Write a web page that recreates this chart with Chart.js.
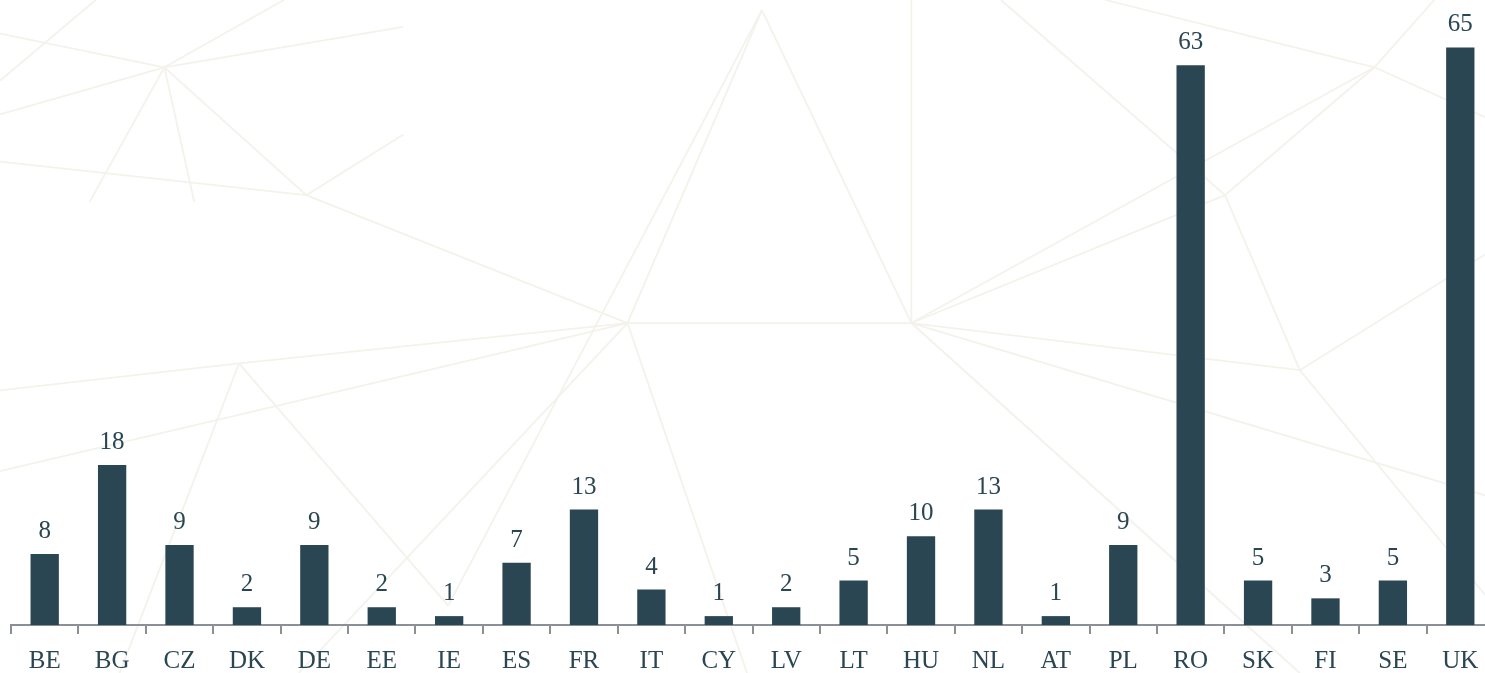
<!DOCTYPE html>
<html>
<head>
<meta charset="utf-8">
<script src="https://cdn.jsdelivr.net/npm/chart.js@4.4.0/dist/chart.umd.min.js"></script>
<style>
  html, body { margin: 0; padding: 0; background: #fff; overflow: hidden; }
  #wrap { width: 1494px; height: 673px; position: relative; }
</style>
</head>
<body>
<div id="wrap"><canvas id="chart"></canvas></div>
<script>
// chart data
const countries = ['BE', 'BG', 'CZ', 'DK', 'DE', 'EE', 'IE', 'ES', 'FR', 'IT', 'CY',
  'LV', 'LT', 'HU', 'NL', 'AT', 'PL', 'RO', 'SK', 'FI', 'SE', 'UK'];
const counts = [8, 18, 9, 2, 9, 2, 1, 7, 13, 4, 1, 2, 5, 10, 13, 1, 9, 63, 5, 3, 5, 65];

const barColor = '#2b4653';
const textColor = '#2b4653';
const serif = "'Liberation Serif', 'DejaVu Serif', serif";

// faint decorative background lines (fractions of the canvas)
const bgLines = [
  [0, .05, .11, .10], [.11, .10, .27, .04], [.11, .10, .19, 0], [.11, .10, 0, .17],
  [.11, .10, .06, .30], [.11, .10, .13, .30], [.11, .10, .205, .29], [0, .12, .064, 0],
  [.205, .29, .27, .20], [0, .24, .205, .29], [.205, .29, .42, .48], [0, .58, .16, .54],
  [.16, .54, .42, .48], [.42, .48, .51, .015], [.42, .48, .61, .48], [.61, .48, .51, .015],
  [.61, .48, .92, .10], [.92, .10, 1, .18], [.92, .10, .74, 0], [.92, .10, .96, 0],
  [.61, .48, .61, 0], [.61, .48, 1, .74], [.42, .48, 0, .70], [.61, .48, .87, 1],
  [.42, .48, .2, 1], [.87, .55, 1, .37], [.82, .29, .92, .10], [.82, .29, .61, .48],
  [.82, .29, .87, .55], [.87, .55, .61, .48], [.87, .55, 1, .90], [.42, .48, .5, 1],
  [.16, .54, .08, 1], [.16, .54, .3, .9], [.82, .29, .67, 0], [.51, .015, .3, .9]
];

const bgPlugin = {
  id: 'bgLines',
  beforeDraw(chart) {
    const { ctx, width, height } = chart;
    ctx.save();
    ctx.fillStyle = '#ffffff';
    ctx.fillRect(0, 0, width, height);
    ctx.strokeStyle = '#f3f2eb';
    ctx.lineWidth = 1.8;
    bgLines.forEach(l => {
      ctx.beginPath();
      ctx.moveTo(l[0] * width, l[1] * height);
      ctx.lineTo(l[2] * width, l[3] * height);
      ctx.stroke();
    });
    ctx.restore();
  }
};

// value labels above each bar
const valueLabels = {
  id: 'valueLabels',
  afterDatasetsDraw(chart) {
    const { ctx } = chart;
    const meta = chart.getDatasetMeta(0);
    ctx.save();
    ctx.font = '25px ' + serif;
    ctx.fillStyle = textColor;
    ctx.textAlign = 'center';
    ctx.textBaseline = 'bottom';
    meta.data.forEach((bar, i) => {
      ctx.fillText(counts[i], bar.x, bar.y - 10);
    });
    ctx.restore();
  }
};

new Chart(document.getElementById('chart'), {
  type: 'bar',
  data: {
    labels: countries,
    datasets: [{
      data: counts,
      backgroundColor: barColor,
      barPercentage: 0.42,
      categoryPercentage: 1
    }]
  },
  options: {
    responsive: true,
    maintainAspectRatio: false,
    animation: false,
    layout: { padding: { left: 11, right: 0, top: 3, bottom: 0 } },
    plugins: { legend: { display: false }, tooltip: { enabled: false } },
    scales: {
      x: {
        offset: true,
        grid: {
          display: true,
          drawOnChartArea: false,
          offset: true,
          tickLength: 9,
          color: '#8a9096',
          lineWidth: 2
        },
        border: { display: true, color: '#8a9096', width: 2 },
        ticks: {
          color: textColor,
          font: { family: serif, size: 25 },
          padding: 12,
          maxRotation: 0,
          autoSkip: false
        },
        afterFit(axis) { axis.height = 48; }
      },
      y: {
        display: false,
        min: 0,
        max: 70
      }
    }
  },
  plugins: [bgPlugin, valueLabels]
});
</script>
</body>
</html>
